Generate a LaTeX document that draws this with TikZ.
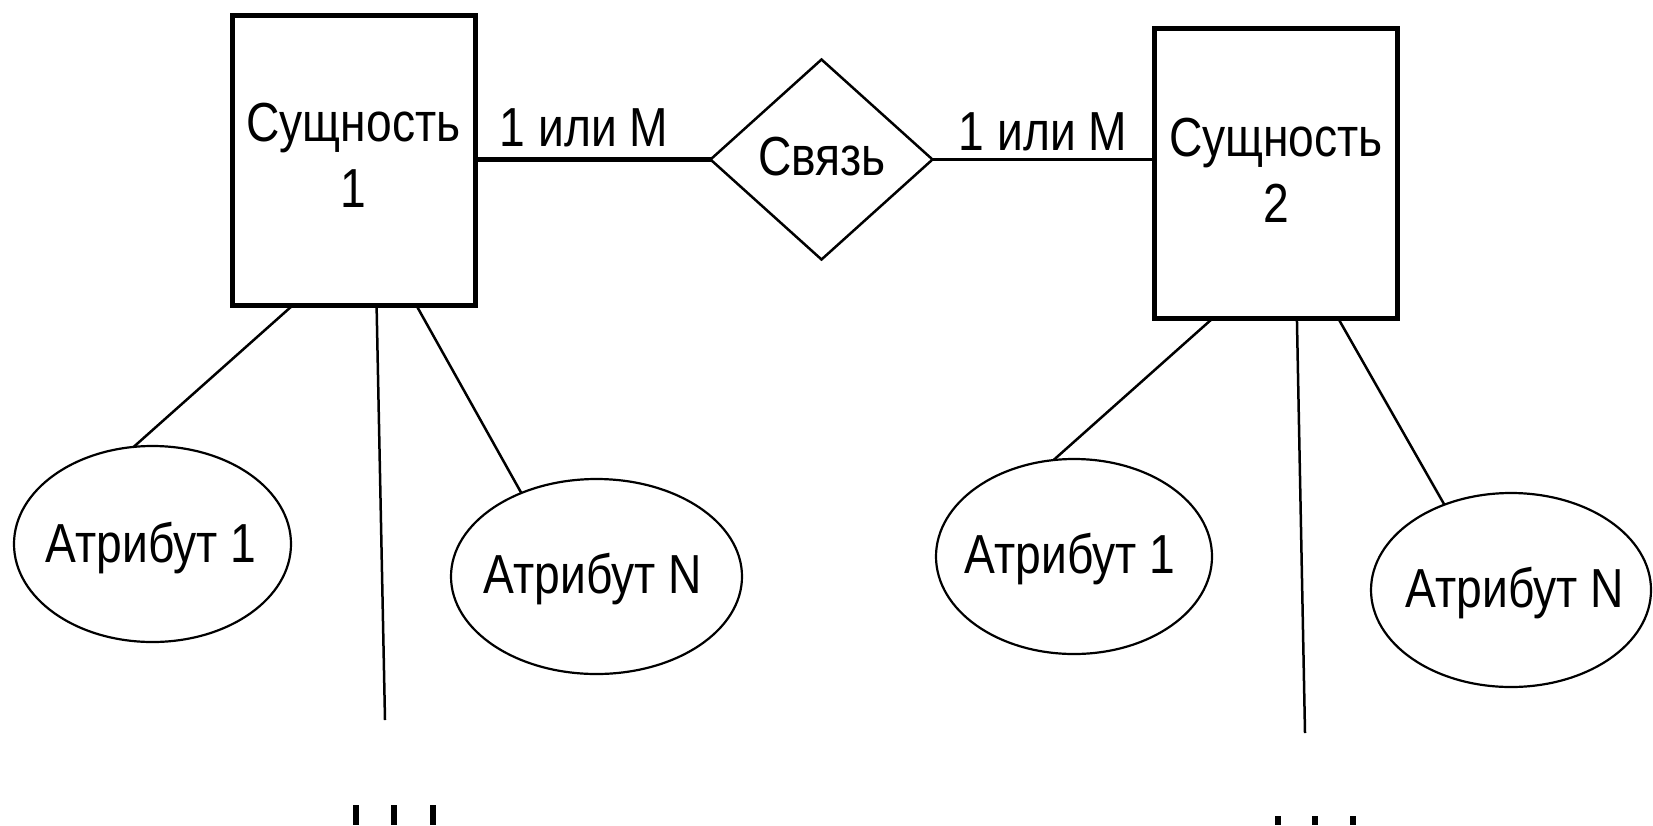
\documentclass[tikz,border=0pt]{standalone}
\usepackage{fontspec}
\setmainfont{Liberation Sans}[FakeStretch=0.84]
\usetikzlibrary{shapes.geometric,calc}
\begin{document}
\begin{tikzpicture}[x=1pt,y=-1pt,
  every node/.style={font=\fontsize{55}{66}\selectfont, inner sep=0pt, outer sep=0pt},
  entity/.style={draw, line width=5pt, minimum width=243pt, minimum height=290pt},
  enttext/.style={align=center},
  relation/.style={draw, diamond, line width=2.5pt, minimum width=222pt, minimum height=200pt},
  attr/.style={draw, ellipse, line width=2.2pt},
  basetext/.style={anchor=base},
  link/.style={line width=2.5pt}]
\useasboundingbox (0,0) rectangle (1653,825);

% entities
\node[entity] (b1) at (353.5,160.5) {};
\node[enttext] (t1) at (353.5,155.5) {Сущность\\1};
\node[entity] (b2) at (1276,173) {};
\node[enttext] (t2) at (1276,170) {Сущность\\2};

% relation
\node[relation] (rel) at (821.5,159.5) {};
\node[basetext] (rt) at (822,175) {Связь};

% cardinality labels
\node[basetext] (l1) at (584,146) {1 или М};
\node[basetext] (l2) at (1043,150) {1 или М};

\draw[line width=5pt] (rel.west -| b1.east) -- (rel.west);
\draw[line width=3pt] (rel.east) -- (rel.east -| b2.west);

% attributes
\node[attr, minimum width=277pt, minimum height=196pt] (e1) at (152.5,544) {};
\node[attr, minimum width=291pt, minimum height=195pt] (e2) at (596.5,576.5) {};
\node[attr, minimum width=276pt, minimum height=195pt] (e3) at (1074,556.5) {};
\node[attr, minimum width=280pt, minimum height=194pt] (e4) at (1511,590) {};
\node[basetext] (a1) at (151,562) {Атрибут 1};
\node[basetext] (a2) at (593,593) {Атрибут N};
\node[basetext] (a3) at (1070,573) {Атрибут 1};
\node[basetext] (a4) at (1515,607) {Атрибут N};

\coordinate (v1) at (385,720);
\coordinate (v2) at (1305,733);

\draw[link] ($(b1.south west)!0.249!(b1.south east)$) -- (e1.101);
\draw[link] ($(b1.south west)!0.595!(b1.south east)$) -- (v1);
\draw[link] ($(b1.south west)!0.759!(b1.south east)$) -- (e2.132);

\draw[link] ($(b2.south west)!0.241!(b2.south east)$) -- (e3.102);
\draw[link] ($(b2.south west)!0.586!(b2.south east)$) -- (v2);
\draw[link] ($(b2.south west)!0.755!(b2.south east)$) -- (e4.128);

% truncated marks at the bottom
\foreach \cx in {356,394,433} \fill (\cx-3,805) rectangle (\cx+3,825);
\foreach \cx in {1278,1315,1353} \fill (\cx-3,816) rectangle (\cx+3,825);
\end{tikzpicture}
\end{document}
